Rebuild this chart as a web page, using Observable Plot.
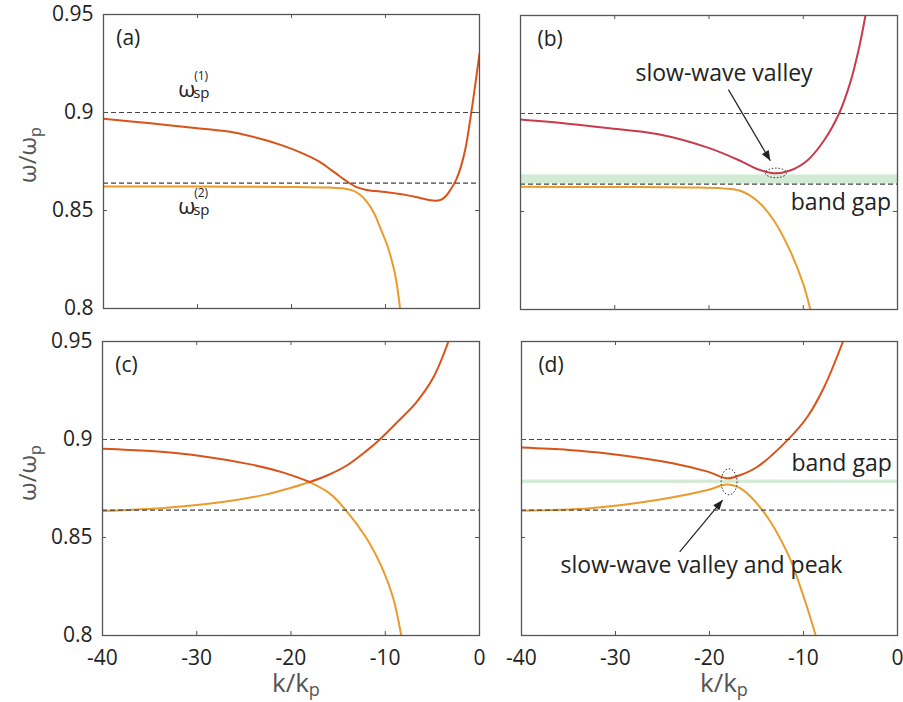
<!DOCTYPE html>
<html><head><meta charset="utf-8">
<script src="https://cdn.jsdelivr.net/npm/d3@7"></script>
<script src="https://cdn.jsdelivr.net/npm/@observablehq/plot@0.6"></script>
<style>
html,body{margin:0;padding:0;background:#fff;}
#fig{position:relative;width:903px;height:702px;font-family:"Open Sans",sans-serif;}
#fig > svg{position:absolute;overflow:visible;}
</style></head><body><div id="fig"></div>
<script>
// ---------- axes ----------
const kTicks = [-40, -30, -20, -10, 0];
const kTickLabels = ["-40", "-30", "-20", "-10", "0"];
const wTicks = [0.8, 0.85, 0.9, 0.95];
const wTickLabels = ["0.8", "0.85", "0.9", "0.95"];
const wSp = [0.9, 0.864]; // surface-plasmon frequencies (dashed lines)

// ---------- panel (a) ----------
const aRedK = [-40,-35,-30,-26,-23,-21,-19,-17,-15.5,-14,-13,-12,-10,-8,-6.5,-5.5,-4.6,-4.0,-3.5,-3.0,-2.5,-2.0,-1.5,-1.0,-0.5,0];
const aRedW = [0.8968,0.8945,0.8920,0.8897,0.8862,0.8832,0.8795,0.8748,0.8697,0.8645,0.8618,0.8605,0.8594,0.8581,0.8566,0.8555,0.8550,0.8557,0.8578,0.8612,0.8655,0.8720,0.8815,0.8960,0.9125,0.9300];
const aOrgK = [-40,-30,-20,-16,-14.5,-13.5,-12.7,-12,-11.2,-10.5,-9.8,-9.1,-8.8,-8.45];
const aOrgW = [0.8623,0.8622,0.8620,0.8617,0.8613,0.8603,0.8580,0.8545,0.8485,0.8405,0.8320,0.8200,0.8125,0.8000];

// ---------- panel (b) ----------
const bRedK = [-40,-35,-30.8,-25.5,-20.2,-16.7,-14.9,-13.1,-11.4,-9.6,-7.8,-6.2,-5.0,-4.1,-3.4];
const bRedW = [0.8969,0.8948,0.8926,0.8895,0.8827,0.8759,0.8717,0.8695,0.8709,0.8759,0.8862,0.9000,0.9160,0.9330,0.9500];
const bOrgK = [-40,-30,-22,-18.5,-16.7,-14.9,-13.1,-11.4,-10,-9.25];
const bOrgW = [0.8626,0.8625,0.8623,0.8618,0.8606,0.8555,0.8453,0.8300,0.8130,0.8000];
const bGap = [0.864, 0.8687];

// ---------- panel (c) ----------
const cRedLeftK = [-40,-34.9,-29.6,-24.3,-20.8,-18.0];
const cRedLeftW = [0.8953,0.8941,0.8916,0.8873,0.8831,0.8783];
const cRedRightK = [-18.0,-16,-14,-12,-10.7,-8.7,-6.7,-4.9,-3.3];
const cRedRightW = [0.8783,0.8820,0.8870,0.8942,0.8995,0.9090,0.9190,0.9316,0.9500];
const cOrgLeftK = [-40,-33.2,-27.9,-22.6,-18.0];
const cOrgLeftW = [0.8635,0.8652,0.8677,0.8720,0.8783];
const cOrgRightK = [-18.0,-15.9,-14.1,-12.0,-10.2,-9.15,-8.3];
const cOrgRightW = [0.8783,0.8725,0.8635,0.8497,0.8330,0.8190,0.8000];

// ---------- panel (d) ----------
const dRedK = [-40,-35,-30.9,-23.8,-20.2,-18.1,-16.7,-14.9,-11.6,-9.6,-7.8,-5.8];
const dRedW = [0.8959,0.8947,0.8929,0.8878,0.8836,0.8802,0.8819,0.8861,0.9002,0.9115,0.9268,0.9500];
const dOrgK = [-40,-32.7,-25.6,-20.2,-18.2,-16.7,-14.4,-11.7,-10.0,-8.7];
const dOrgW = [0.8636,0.8649,0.8691,0.8742,0.8770,0.8751,0.8641,0.8420,0.8200,0.8000];
const dGap = [0.8776, 0.8793];

// ---------- annotations ----------
const tagText = ["(a)", "(b)", "(c)", "(d)"];
const tagK = [-38.65, -38.2, -38.65, -38.2];
const tagW = [0.9345, 0.9345, 0.9345, 0.9345];
const spLabelK = [-32.06, -32.06];
const spLabelW = [0.9078, 0.8482];
const spSup = ["(1)", "(2)"];

const colRed = "#D95319", colRedB = "#C93A4E", colOrg = "#EA9B2C";
const ink = "#222", frameCol = "#555";

const zip = (K, W) => K.map((k, i) => ({k, w: W[i]}));

// ellipse symbol (dotted ring annotation)
function ellipse(rx, ry) {
  const c = 0.5523;
  return {draw(ctx) {
    ctx.moveTo(rx, 0);
    ctx.bezierCurveTo(rx, ry*c, rx*c, ry, 0, ry);
    ctx.bezierCurveTo(-rx*c, ry, -rx, ry*c, -rx, 0);
    ctx.bezierCurveTo(-rx, -ry*c, -rx*c, -ry, 0, -ry);
    ctx.bezierCurveTo(rx*c, -ry, rx, -ry*c, rx, 0);
    ctx.closePath();
  }};
}
// arrow head with tip at origin, pointing up before rotation
const arrowHead = {draw(ctx) { ctx.moveTo(0, 0); ctx.lineTo(-4, 10); ctx.lineTo(4, 10); ctx.closePath(); }};

function line(K, W, stroke) {
  return Plot.line(zip(K, W), {x: "k", y: "w", curve: "catmull-rom", stroke, strokeWidth: 2, clip: true});
}
function text1(str, k, w, opts = {}) {
  return Plot.text([str], {x: () => k, y: () => w, text: d => d, fill: ink, fontSize: 21, lineAnchor: "bottom", ...opts});
}
function callout(k1, w1, k2, w2, rot) {
  return [
    Plot.link([0], {x1: () => k1, y1: () => w1, x2: () => k2, y2: () => w2, stroke: ink, strokeWidth: 1.2}),
    Plot.dot([0], {x: () => k2, y: () => w2, symbol: arrowHead, r: 4, rotate: rot, fill: ink, stroke: "none"})
  ];
}
function ring(k, w, rx, ry) {
  return Plot.dot([0], {x: () => k, y: () => w, symbol: ellipse(rx, ry), r: 5, fill: "none", stroke: "#333", strokeWidth: 1, strokeDasharray: "1.5,1.8"});
}

function panel({left, top, width, height, mL, mR, mT, mB, xLabels, yLabels, marks}) {
  const fw = width - mL - mR, fh = height - mT - mB, t = 4;
  const chart = Plot.plot({
    width, height, marginLeft: mL, marginRight: mR, marginTop: mT, marginBottom: mB,
    x: {domain: [-40, 0]},
    y: {domain: [0.8, 0.95]},
    style: {fontFamily: "'Open Sans', sans-serif", fontSize: "21px", color: ink, background: "transparent", overflow: "visible"},
    marks: [
      ...marks,
      Plot.ruleY(wSp, {stroke: "#444", strokeWidth: 1.2, strokeDasharray: "5,3"}),
      // inward ticks on all four sides
      Plot.ruleX(kTicks, {x: d => d, insetTop: fh - t, stroke: frameCol, strokeWidth: 1}),
      Plot.ruleX(kTicks, {x: d => d, insetBottom: fh - t, stroke: frameCol, strokeWidth: 1}),
      Plot.ruleY(wTicks, {y: d => d, insetRight: fw - t, stroke: frameCol, strokeWidth: 1}),
      Plot.ruleY(wTicks, {y: d => d, insetLeft: fw - t, stroke: frameCol, strokeWidth: 1}),
      Plot.frame({stroke: frameCol, strokeWidth: 1.3}),
      xLabels ? Plot.axisX({anchor: "bottom", ticks: kTicks, tickSize: 0, tickPadding: 15, fill: ink, fontSize: 21,
        tickFormat: d => kTickLabels[kTicks.indexOf(d)], label: null}) : Plot.axisX({ticks: [], label: null}),
      yLabels ? Plot.axisY({anchor: "left", ticks: wTicks, tickSize: 0, tickPadding: 10, fill: ink, fontSize: 21,
        tickFormat: d => wTickLabels[wTicks.indexOf(d)], label: null}) : Plot.axisY({ticks: [], label: null})
    ]
  });
  chart.style.left = left + "px";
  chart.style.top = top + "px";
  document.getElementById("fig").appendChild(chart);
  return chart;
}

function yLabel(chart, x, y) {
  const t = d3.select(chart).append("text")
    .attr("transform", `translate(${x},${y}) rotate(-90)`)
    .attr("fill", "#555").attr("font-size", 24).attr("text-anchor", "middle");
  t.append("tspan").text("ω/ω");
  t.append("tspan").attr("font-size", 16).attr("dy", 5).text("p");
}
function xLabel(chart, x, y) {
  const t = d3.select(chart).append("text")
    .attr("transform", `translate(${x},${y})`)
    .attr("fill", "#555").attr("font-size", 26).attr("text-anchor", "start");
  t.append("tspan").text("k/k");
  t.append("tspan").attr("font-size", 18).attr("dy", 4).text("p");
}

// (a)
const A = panel({left: 0, top: 0, width: 490, height: 322, mL: 103, mR: 11, mT: 14, mB: 14, xLabels: false, yLabels: true,
  marks: [
    line(aOrgK, aOrgW, colOrg),
    line(aRedK, aRedW, colRed),
    text1(tagText[0], tagK[0], tagW[0], {textAnchor: "start"}),
    text1("ω", spLabelK[0], spLabelW[0], {textAnchor: "start", fontSize: 22}),
    text1("sp", spLabelK[0], spLabelW[0], {textAnchor: "start", fontSize: 15, dx: 15, dy: 1}),
    text1(spSup[0], spLabelK[0], spLabelW[0], {textAnchor: "start", fontSize: 12, dx: 16, dy: -17}),
    text1("ω", spLabelK[1], spLabelW[1], {textAnchor: "start", fontSize: 22}),
    text1("sp", spLabelK[1], spLabelW[1], {textAnchor: "start", fontSize: 15, dx: 15, dy: 1}),
    text1(spSup[1], spLabelK[1], spLabelW[1], {textAnchor: "start", fontSize: 12, dx: 16, dy: -17})
  ]});
yLabel(A, 36, 155);

// (b)
const B = panel({left: 490, top: 0, width: 413, height: 322, mL: 30, mR: 6, mT: 15, mB: 13, xLabels: false, yLabels: false,
  marks: [
    Plot.rect([0], {y1: () => bGap[0], y2: () => bGap[1], fill: "#d3ebd5"}),
    line(bOrgK, bOrgW, colOrg),
    line(bRedK, bRedW, colRedB),
    text1(tagText[1], tagK[1], tagW[1], {textAnchor: "start"}),
    text1("slow-wave valley", -18.4, 0.9168, {textAnchor: "middle", fontSize: 23}),
    text1("band gap", -6.0, 0.8508, {textAnchor: "middle", fontSize: 23}),
    ring(-12.9, 0.8697, 10.5, 4.8),
    ...callout(-17.94, 0.9122, -13.49, 0.8759, 149.4)
  ]});

// (c)
const C = panel({left: 0, top: 322, width: 490, height: 380, mL: 102, mR: 11, mT: 19, mB: 67, xLabels: true, yLabels: true,
  marks: [
    line(cOrgLeftK, cOrgLeftW, colOrg),
    line(cOrgRightK, cOrgRightW, colOrg),
    line(cRedLeftK, cRedLeftW, colRed),
    line(cRedRightK, cRedRightW, colRed),
    text1(tagText[2], tagK[2], tagW[2], {textAnchor: "start"})
  ]});
yLabel(C, 36, 151);
xLabel(C, 272, 370);

// (d)
const D = panel({left: 490, top: 322, width: 413, height: 380, mL: 31, mR: 6, mT: 19, mB: 67, xLabels: true, yLabels: false,
  marks: [
    Plot.rect([0], {y1: () => dGap[0], y2: () => dGap[1], fill: "#d3ebd5"}),
    line(dOrgK, dOrgW, colOrg),
    line(dRedK, dRedW, colRed),
    text1(tagText[3], tagK[3], tagW[3], {textAnchor: "start"}),
    text1("band gap", -5.95, 0.884, {textAnchor: "middle", fontSize: 23}),
    text1("slow-wave valley and peak", -20.85, 0.8318, {textAnchor: "middle", fontSize: 23}),
    ring(-17.92, 0.8784, 8, 13),
    ...callout(-23.17, 0.8427, -18.6, 0.8691, 39.6)
  ]});
xLabel(D, 210, 370);
</script></body></html>
